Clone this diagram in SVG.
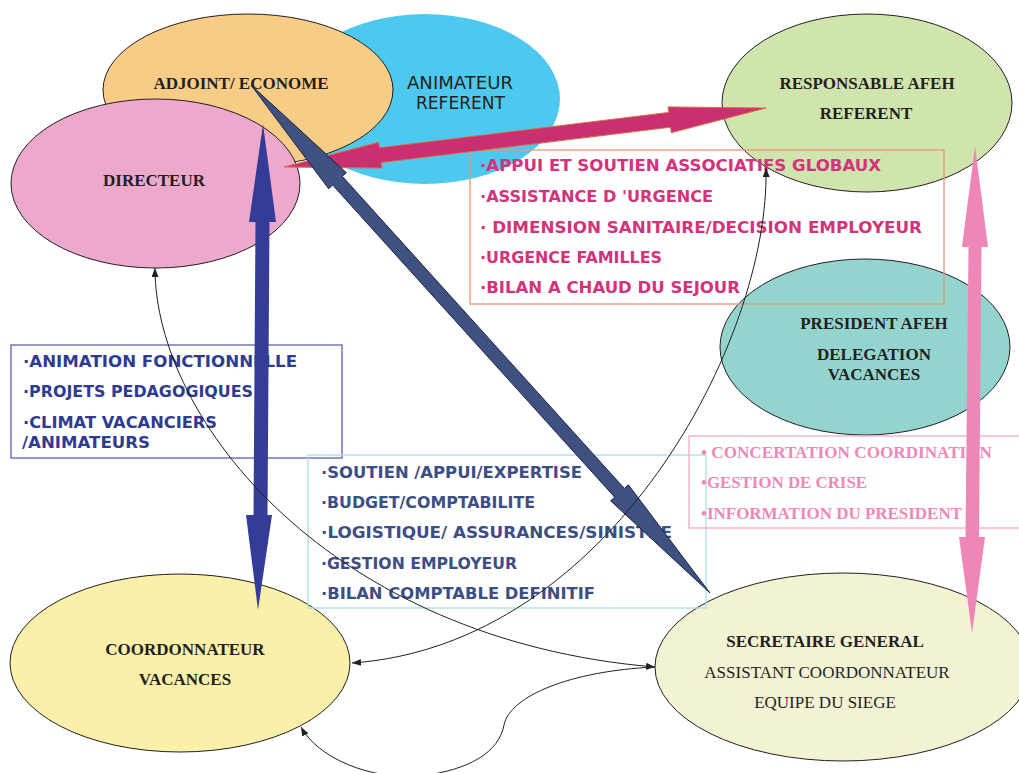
<svg xmlns="http://www.w3.org/2000/svg" width="1019" height="773" viewBox="0 0 1019 773">
<style>
.node{stroke:#231F20;stroke-width:1}
.nt{font-family:"Liberation Serif",serif;font-weight:bold;font-size:17px;fill:#231F20;text-anchor:middle}
.nr{font-family:"Liberation Serif",serif;font-size:17px;fill:#231F20;text-anchor:middle}
.cm{font-family:"Comic Sans MS","DejaVu Sans",sans-serif;font-weight:bold;font-size:16px}
.cr{font-family:"Comic Sans MS","DejaVu Sans",sans-serif;font-size:17px;fill:#231F20}
.b1{fill:#D2337B}.b2{fill:#2F3B91}.b3{fill:#3D4E85}
.b4{font-family:"Liberation Serif",serif;font-weight:bold;font-size:17px;fill:#EE88B8}
.box{fill:none;stroke-width:1.3}
.curve{fill:none;stroke:#231F20;stroke-width:1}
</style>
<defs>
<marker id="ah" markerWidth="10" markerHeight="8" refX="9" refY="3.5" orient="auto-start-reverse" markerUnits="userSpaceOnUse">
<path d="M0,0 L9,3.5 L0,7 z" fill="#231F20"/>
</marker>
</defs>
<rect width="1019" height="773" fill="#FFFFFF"/>

<g id="animateur-referent">
<ellipse cx="425" cy="99" rx="135" ry="85" fill="#4DC9EF"/>
<text class="cr" x="407" y="89" textLength="106" lengthAdjust="spacingAndGlyphs">ANIMATEUR</text>
<text class="cr" x="416" y="109" textLength="89" lengthAdjust="spacingAndGlyphs">REFERENT</text>
</g>
<g id="adjoint-econome">
<ellipse class="node" cx="248" cy="90" rx="145" ry="76" fill="#F6CC86"/>
<text class="nt" x="241" y="89">ADJOINT/ ECONOME</text>
</g>
<g id="directeur">
<ellipse class="node" cx="155.5" cy="183.5" rx="144.5" ry="84.5" fill="#EDA9CC"/>
<text class="nt" x="154" y="186">DIRECTEUR</text>
</g>
<g id="responsable-afeh">
<ellipse class="node" cx="867" cy="103" rx="145" ry="89" fill="#D0E4AD"/>
<text class="nt" x="867" y="89">RESPONSABLE AFEH</text>
<text class="nt" x="866" y="119">REFERENT</text>
</g>
<g id="president-afeh">
<ellipse class="node" cx="865" cy="347" rx="145" ry="88" fill="#93D4CF"/>
<text class="nt" x="874" y="329">PRESIDENT AFEH</text>
<text class="nt" x="874" y="360">DELEGATION</text>
<text class="nt" x="874" y="380">VACANCES</text>
</g>
<g id="coordonnateur">
<ellipse class="node" cx="180" cy="663" rx="170" ry="89" fill="#FAF0A9"/>
<text class="nt" x="185" y="655">COORDONNATEUR</text>
<text class="nt" x="185" y="685">VACANCES</text>
</g>
<g id="secretaire-general">
<ellipse class="node" cx="843" cy="667" rx="188" ry="94" fill="#F3F2D3"/>
<text class="nt" x="825" y="647">SECRETAIRE GENERAL</text>
<text class="nr" x="827" y="678">ASSISTANT COORDONNATEUR</text>
<text class="nr" x="825" y="708">EQUIPE DU SIEGE</text>
</g>

<g id="box-responsable">
<rect class="box" x="470" y="150" width="474" height="154" stroke="#E3977A"/>
<text class="cm b1" x="480" y="171" textLength="401" lengthAdjust="spacingAndGlyphs">·APPUI ET SOUTIEN ASSOCIATIFS GLOBAUX</text>
<text class="cm b1" x="480" y="202" textLength="233" lengthAdjust="spacingAndGlyphs">·ASSISTANCE D 'URGENCE</text>
<text class="cm b1" x="480" y="233" textLength="442" lengthAdjust="spacingAndGlyphs">· DIMENSION SANITAIRE/DECISION EMPLOYEUR</text>
<text class="cm b1" x="480" y="263" textLength="182" lengthAdjust="spacingAndGlyphs">·URGENCE FAMILLES</text>
<text class="cm b1" x="480" y="293" textLength="260" lengthAdjust="spacingAndGlyphs">·BILAN A CHAUD DU SEJOUR</text>
</g>
<g id="box-directeur">
<rect class="box" x="11" y="345" width="331" height="113" stroke="#5B61B1"/>
<text class="cm b2" x="23" y="367" textLength="274" lengthAdjust="spacingAndGlyphs">·ANIMATION FONCTIONNELLE</text>
<text class="cm b2" x="23" y="397" textLength="230" lengthAdjust="spacingAndGlyphs">·PROJETS PEDAGOGIQUES</text>
<text class="cm b2" x="23" y="428" textLength="194" lengthAdjust="spacingAndGlyphs">·CLIMAT VACANCIERS</text>
<text class="cm b2" x="22" y="448" textLength="128" lengthAdjust="spacingAndGlyphs">/ANIMATEURS</text>
</g>
<g id="box-adjoint">
<rect class="box" x="308" y="455" width="398" height="153" stroke="#AEDCE5"/>
<text class="cm b3" x="321" y="478" textLength="261" lengthAdjust="spacingAndGlyphs">·SOUTIEN /APPUI/EXPERTISE</text>
<text class="cm b3" x="321" y="508" textLength="214" lengthAdjust="spacingAndGlyphs">·BUDGET/COMPTABILITE</text>
<text class="cm b3" x="321" y="538" textLength="351" lengthAdjust="spacingAndGlyphs">·LOGISTIQUE/ ASSURANCES/SINISTRE</text>
<text class="cm b3" x="321" y="569" textLength="196" lengthAdjust="spacingAndGlyphs">·GESTION EMPLOYEUR</text>
<text class="cm b3" x="321" y="599" textLength="274" lengthAdjust="spacingAndGlyphs">·BILAN COMPTABLE DEFINITIF</text>
</g>
<g id="box-president">
<rect class="box" x="689" y="436" width="340" height="92" stroke="#F2A9CC"/>
<text class="b4" x="701" y="458" textLength="291" lengthAdjust="spacingAndGlyphs">• CONCERTATION COORDINATION</text>
<text class="b4" x="701" y="488" textLength="166" lengthAdjust="spacingAndGlyphs">•GESTION DE CRISE</text>
<text class="b4" x="701" y="519" textLength="261" lengthAdjust="spacingAndGlyphs">•INFORMATION DU PRESIDENT</text>
</g>

<g id="connectors">
<polygon points="284,167 378.7,142.3 379.4,147.8 668.8,112.4 668.1,106.9 766,108 671.3,132.7 670.6,127.2 381.2,162.6 381.9,168.1" fill="#C9306F" stroke="#DB6A48" stroke-width="1"/>
<polygon points="263,124 276,222 269.5,222 267.5,515 272,515 258,610 246,515 253.5,515 255.5,222 249,222" fill="#343C97"/>
<polygon points="251,85 346.4,172.7 342.3,176.3 624.3,488.4 628.4,484.8 710,593 610.6,500.8 614.7,497.2 332.7,185.1 328.6,188.7" fill="#3F5180" stroke="#1F2540" stroke-width="1"/>
<polygon points="975,146 988,247 981.5,247 979,537 985,537 972,633 959,537 965.5,537 968.5,247 962,247" fill="#EE87B7"/>
<path class="curve" d="M155,268 C155,420 330,640 655,667" marker-start="url(#ah)" marker-end="url(#ah)"/>
<path class="curve" d="M352,663 C610,645 770,340 766,168" marker-start="url(#ah)" marker-end="url(#ah)"/>
<path class="curve" d="M655,667 C570,671 510,696 504,725 C499,752 470,770 420,776 C370,780 318,758 301,727" marker-end="url(#ah)"/>
</g>
</svg>
